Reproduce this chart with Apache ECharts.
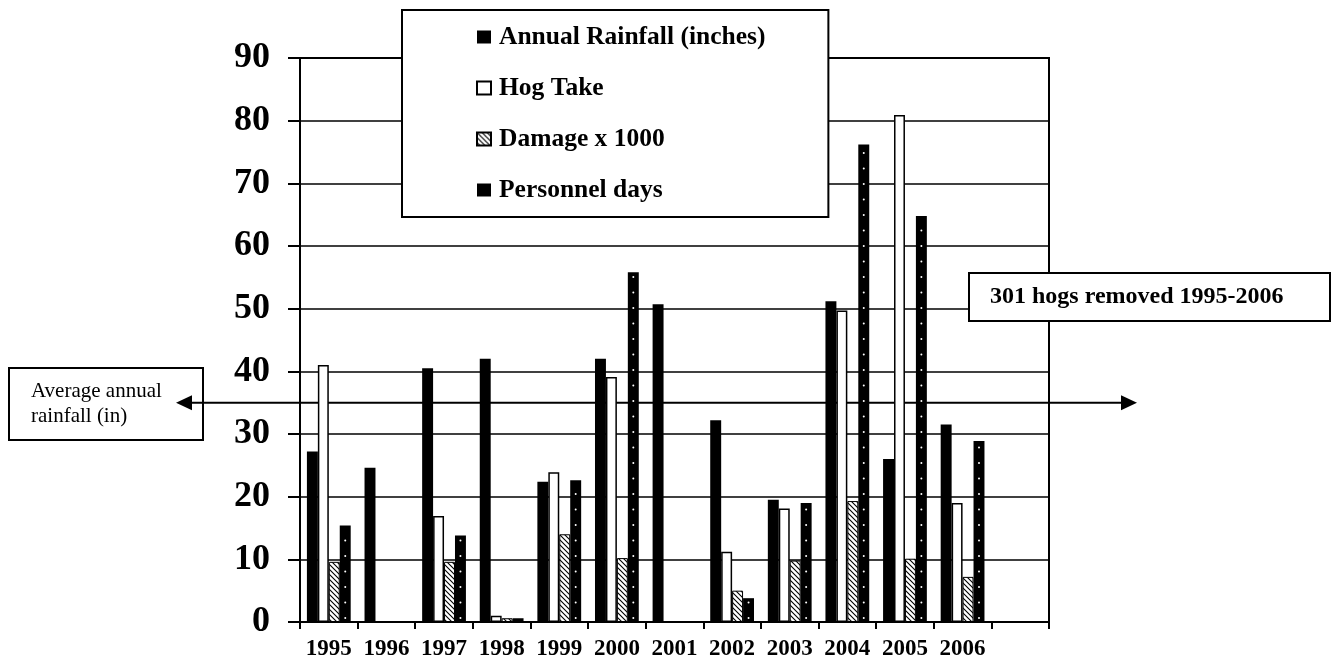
<!DOCTYPE html>
<html lang="en">
<head>
    <meta charset="UTF-8">
    <title>Rainfall, hog take, damage and personnel days 1995-2006</title>
    <script src="https://cdn.jsdelivr.net/npm/echarts@6/dist/echarts.min.js"></script>
    <style>
        html, body {
            margin: 0;
            padding: 0;
            background: #fff;
        }
        #chart {
            width: 1335px;
            height: 662px;
        }
    </style>
</head>
<body>
    <div id="chart"></div>
    <script>
        // data
        const years = ['1995', '1996', '1997', '1998', '1999', '2000', '2001', '2002', '2003', '2004', '2005', '2006', ''];
        const rainfall = [27.2, 24.6, 40.5, 42.0, 22.4, 42.0, 50.7, 32.2, 19.5, 51.2, 26.0, 31.5];
        const hogTake = [41.0, 0, 16.9, 1.0, 23.9, 39.1, 0, 11.2, 18.1, 49.7, 80.9, 19.0];
        const damage = [9.6, 0, 9.6, 0.6, 14.0, 10.2, 0, 5.0, 9.8, 19.3, 10.1, 7.2];
        const personnelDays = [15.4, 0, 13.8, 0.6, 22.6, 55.8, 0, 3.8, 19.0, 76.2, 64.8, 28.9];
        const seriesNames = ['Annual Rainfall (inches)', 'Hog Take', 'Damage x 1000', 'Personnel days'];
        const yMin = 0, yMax = 90, yStep = 10;
        const avgRainfall = 35;

        const serif = '"Times New Roman", "Liberation Serif", serif';
        const barShare = 0.19;

        // diagonal hatch for the damage bars
        function makeHatch() {
            const c = document.createElement('canvas');
            c.width = 5;
            c.height = 5;
            const ctx = c.getContext('2d');
            ctx.fillStyle = '#fff';
            ctx.fillRect(0, 0, 5, 5);
            ctx.strokeStyle = '#000';
            ctx.lineWidth = 1.1;
            ctx.beginPath();
            ctx.moveTo(-1, -1); ctx.lineTo(6, 6);
            ctx.moveTo(-1, 4); ctx.lineTo(1, 6);
            ctx.moveTo(4, -1); ctx.lineTo(6, 1);
            ctx.stroke();
            return c;
        }
        const hatch = { image: makeHatch(), repeat: 'repeat' };

        const chart = echarts.init(document.getElementById('chart'));

        const barBase = {
            type: 'bar',
            barWidth: (barShare * 100) + '%',
            barGap: '0%',
            barCategoryGap: '24%'
        };

        const option = {
            animation: false,
            backgroundColor: '#fff',
            grid: {
                left: 300,
                right: 286,
                top: 58,
                bottom: 40,
                show: true,
                borderColor: '#000',
                borderWidth: 2
            },
            legend: {
                orient: 'vertical',
                left: 402,
                top: 10,
                data: seriesNames,
                icon: 'rect',
                itemWidth: 14,
                itemHeight: 13,
                itemGap: 25,
                padding: [14, 63, 14, 74],
                backgroundColor: '#fff',
                borderColor: '#000',
                borderWidth: 2,
                borderRadius: 0,
                selectedMode: false,
                textStyle: {
                    fontFamily: serif,
                    fontWeight: 'bold',
                    fontSize: 25.5,
                    lineHeight: 24,
                    color: '#000',
                    padding: [0, 0, 0, 3]
                }
            },
            xAxis: {
                type: 'category',
                data: years,
                axisLine: { lineStyle: { color: '#000', width: 2 } },
                axisTick: { show: true, length: 7, lineStyle: { color: '#000', width: 2 } },
                axisLabel: {
                    interval: 0,
                    margin: 16,
                    fontFamily: serif,
                    fontWeight: 'bold',
                    fontSize: 23,
                    color: '#000'
                },
                splitLine: { show: false }
            },
            yAxis: {
                type: 'value',
                min: yMin,
                max: yMax,
                interval: yStep,
                axisLine: { show: true, lineStyle: { color: '#000', width: 2 } },
                axisTick: { show: true, length: 12, lineStyle: { color: '#000', width: 2 } },
                axisLabel: {
                    margin: 30,
                    fontFamily: serif,
                    fontWeight: 'bold',
                    fontSize: 36,
                    color: '#000'
                },
                splitLine: { lineStyle: { color: '#000', width: 1.6 } }
            },
            series: [
                Object.assign({}, barBase, {
                    name: seriesNames[0],
                    data: rainfall,
                    itemStyle: { color: '#000' }
                }),
                Object.assign({}, barBase, {
                    name: seriesNames[1],
                    data: hogTake,
                    itemStyle: { color: '#fff', borderColor: '#000', borderWidth: 1.5 }
                }),
                Object.assign({}, barBase, {
                    name: seriesNames[2],
                    data: damage,
                    itemStyle: { color: hatch, borderColor: '#000', borderWidth: 1 }
                }),
                Object.assign({}, barBase, {
                    name: seriesNames[3],
                    data: personnelDays,
                    itemStyle: { color: '#000' }
                }),
                {
                    // white dots on the personnel bars
                    type: 'custom',
                    name: 'personnel-dots',
                    silent: true,
                    z: 3,
                    data: personnelDays.map((v, i) => [i, v]),
                    renderItem(params, api) {
                        const i = api.value(0);
                        const v = api.value(1);
                        const top = api.coord([i, v]);
                        const base = api.coord([i, 0]);
                        const band = api.size([1, 0])[0];
                        const x = top[0] + band * barShare * 1.5;
                        const dots = [];
                        for (let y = base[1] - 4; y > top[1] + 4; y -= 15.5) {
                            dots.push({
                                type: 'circle',
                                shape: { cx: x, cy: y, r: 1 },
                                style: { fill: '#fff' }
                            });
                        }
                        return { type: 'group', children: dots };
                    }
                }
            ]
        };

        chart.setOption(option);

        // average rainfall arrow and the two text boxes
        const avgY = chart.convertToPixel({ yAxisIndex: 0 }, avgRainfall);
        chart.setOption({
            graphic: [
                {
                    type: 'line',
                    z: 1,
                    shape: { x1: 185, y1: avgY, x2: 1128, y2: avgY },
                    style: { stroke: '#000', lineWidth: 2 }
                },
                {
                    type: 'polygon',
                    z: 1,
                    shape: { points: [[176, avgY], [192, avgY - 7.5], [192, avgY + 7.5]] },
                    style: { fill: '#000' }
                },
                {
                    type: 'polygon',
                    z: 1,
                    shape: { points: [[1137, avgY], [1121, avgY - 7.5], [1121, avgY + 7.5]] },
                    style: { fill: '#000' }
                },
                {
                    type: 'group',
                    left: 8,
                    top: 367,
                    z: 20,
                    children: [
                        {
                            type: 'rect',
                            shape: { x: 0, y: 0, width: 194, height: 72 },
                            style: { fill: '#fff', stroke: '#000', lineWidth: 2 }
                        },
                        {
                            type: 'text',
                            x: 22,
                            y: 36,
                            style: {
                                text: 'Average annual\nrainfall (in)',
                                fontFamily: serif,
                                fontSize: 21,
                                lineHeight: 25,
                                fill: '#000',
                                verticalAlign: 'middle'
                            }
                        }
                    ]
                },
                {
                    type: 'group',
                    left: 968,
                    top: 272,
                    z: 20,
                    children: [
                        {
                            type: 'rect',
                            shape: { x: 0, y: 0, width: 361, height: 48 },
                            style: { fill: '#fff', stroke: '#000', lineWidth: 2 }
                        },
                        {
                            type: 'text',
                            x: 21,
                            y: 24,
                            style: {
                                text: '301 hogs removed 1995-2006',
                                fontFamily: serif,
                                fontWeight: 'bold',
                                fontSize: 24,
                                fill: '#000',
                                verticalAlign: 'middle'
                            }
                        }
                    ]
                }
            ]
        });
    </script>
</body>
</html>
